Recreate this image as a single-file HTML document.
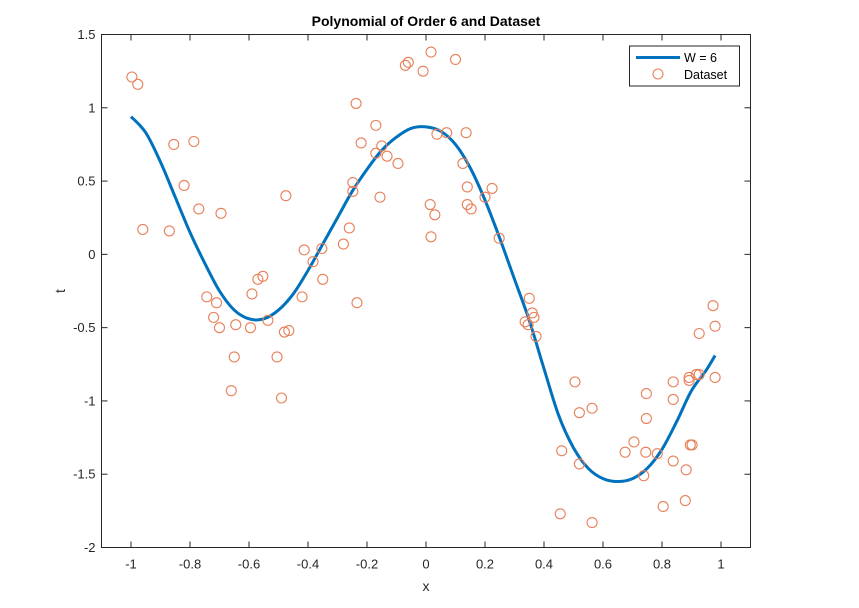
<!DOCTYPE html>
<html><head><meta charset="utf-8"><style>
body{margin:0;background:#fff;}
svg{display:block;font-family:"Liberation Sans",Arial,sans-serif;}
</style></head><body>
<svg id="chart" width="859" height="608"></svg>
<script>
const xTicks=[-1,-0.8,-0.6,-0.4,-0.2,0,0.2,0.4,0.6,0.8,1];
const xTickLabels=["-1","-0.8","-0.6","-0.4","-0.2","0","0.2","0.4","0.6","0.8","1"];
const yTicks=[1.5,1,0.5,0,-0.5,-1,-1.5,-2];
const yTickLabels=["1.5","1","0.5","0","-0.5","-1","-1.5","-2"];
const curveX=[-1,-0.95,-0.9,-0.85,-0.8,-0.75,-0.7,-0.65,-0.6,-0.55,-0.5,-0.45,-0.4,-0.35,-0.3,-0.25,-0.2,-0.15,-0.1,-0.05,0,0.05,0.1,0.15,0.2,0.25,0.3,0.35,0.4,0.45,0.5,0.55,0.6,0.65,0.7,0.75,0.8,0.85,0.9,0.95,0.98];
const curveY=[0.94,0.83,0.63,0.39,0.15,-0.06,-0.25,-0.38,-0.44,-0.44,-0.38,-0.27,-0.11,0.07,0.25,0.43,0.58,0.71,0.80,0.86,0.87,0.84,0.75,0.59,0.37,0.11,-0.17,-0.45,-0.78,-1.10,-1.32,-1.46,-1.53,-1.55,-1.53,-1.46,-1.33,-1.14,-0.93,-0.79,-0.69];
const dataX=[-0.997,-0.977,-0.96,-0.855,-0.87,-0.787,-0.82,-0.77,-0.695,-0.475,-0.743,-0.71,-0.72,-0.70,-0.645,-0.65,-0.66,-0.59,-0.595,-0.57,-0.553,-0.536,-0.505,-0.49,-0.48,-0.465,-0.42,-0.413,-0.383,-0.353,-0.35,-0.28,-0.26,-0.248,-0.248,-0.237,-0.234,-0.22,-0.17,-0.17,-0.156,-0.15,-0.132,-0.095,-0.07,-0.06,-0.01,0.017,0.014,0.017,0.03,0.037,0.07,0.10,0.136,0.125,0.14,0.14,0.153,0.20,0.224,0.248,0.35,0.336,0.346,0.36,0.366,0.373,0.505,0.52,0.563,0.46,0.52,0.455,0.563,0.675,0.705,0.745,0.738,0.747,0.747,0.784,0.804,0.838,0.838,0.838,0.882,0.879,0.892,0.892,0.896,0.902,0.916,0.926,0.926,0.973,0.98,0.98];
const dataY=[1.21,1.16,0.17,0.75,0.16,0.77,0.47,0.31,0.28,0.40,-0.29,-0.33,-0.43,-0.50,-0.48,-0.70,-0.93,-0.27,-0.50,-0.17,-0.15,-0.45,-0.70,-0.98,-0.53,-0.52,-0.29,0.03,-0.05,0.04,-0.17,0.07,0.18,0.49,0.43,1.03,-0.33,0.76,0.88,0.69,0.39,0.74,0.67,0.62,1.29,1.31,1.25,1.38,0.34,0.12,0.27,0.82,0.83,1.33,0.83,0.62,0.46,0.34,0.31,0.39,0.45,0.11,-0.30,-0.46,-0.48,-0.40,-0.43,-0.56,-0.87,-1.08,-1.05,-1.34,-1.43,-1.77,-1.83,-1.35,-1.28,-1.35,-1.51,-0.95,-1.12,-1.36,-1.72,-0.87,-0.99,-1.41,-1.47,-1.68,-0.84,-0.86,-1.30,-1.30,-0.82,-0.82,-0.54,-0.35,-0.49,-0.84];

const NS="http://www.w3.org/2000/svg";
const svg=document.getElementById('chart');
const L=101.5,R=750.5,T=34.5,B=547.5;
const xMin=-1.1,xMax=1.1,yMin=-2,yMax=1.5;
function sx(v){return L+(v-xMin)/(xMax-xMin)*(R-L);}
function sy(v){return B-(v-yMin)/(yMax-yMin)*(B-T);}
function mk(tag,attrs,parent){const e=document.createElementNS(NS,tag);for(const k in attrs)e.setAttribute(k,attrs[k]);(parent||svg).appendChild(e);return e;}

const axes=mk('rect',{x:L,y:T,width:R-L,height:B-T,fill:'#fff',stroke:'#262626','stroke-width':1});



xTicks.forEach((v,i)=>{
  const x=sx(v);
  const t1=mk('line',{x1:x,x2:x,y1:B,y2:B-6,stroke:'#262626'});
  
  
  mk('line',{x1:x,x2:x,y1:T,y2:T+6,stroke:'#262626'});
  const tx=mk('text',{x:x,y:B+21,'text-anchor':'middle','font-size':13,fill:'#262626'});
  tx.textContent=xTickLabels[i];
  
  
});
yTicks.forEach((v,i)=>{
  const y=sy(v);
  const t1=mk('line',{x1:L,x2:L+6,y1:y,y2:y,stroke:'#262626'});
  
  
  mk('line',{x1:R,x2:R-6,y1:y,y2:y,stroke:'#262626'});
  const tx=mk('text',{x:L-6,y:y+4.5,'text-anchor':'end','font-size':13,fill:'#262626'});
  tx.textContent=yTickLabels[i];
  
  
});

const pts=curveX.map((v,i)=>[sx(v),sy(curveY[i])]);
let d='M'+pts[0][0]+','+pts[0][1];
for(let i=0;i<pts.length-1;i++){
  const p0=pts[Math.max(0,i-1)],p1=pts[i],p2=pts[i+1],p3=pts[Math.min(pts.length-1,i+2)];
  const c1=[p1[0]+(p2[0]-p0[0])/6,p1[1]+(p2[1]-p0[1])/6];
  const c2=[p2[0]-(p3[0]-p1[0])/6,p2[1]-(p3[1]-p1[1])/6];
  d+=' C'+c1[0]+','+c1[1]+' '+c2[0]+','+c2[1]+' '+p2[0]+','+p2[1];
}
const curve=mk('path',{d:d,fill:'none',stroke:'#0072BD','stroke-width':3,'stroke-linejoin':'round'});



dataX.forEach((v,i)=>{
  const c=mk('circle',{cx:sx(v),cy:sy(dataY[i]),r:5,fill:'none',stroke:'#E8805A','stroke-width':1.1});
  
  
});

const lg=mk('g',{});


mk('rect',{x:629.5,y:46,width:110,height:40,fill:'#fff',stroke:'#262626','stroke-width':1},lg);
mk('line',{x1:636,x2:680,y1:57.5,y2:57.5,stroke:'#0072BD','stroke-width':3},lg);
mk('circle',{cx:658,cy:74,r:5,fill:'none',stroke:'#E8805A','stroke-width':1.1},lg);
const l1=mk('text',{x:684,y:62,'font-size':12.5,fill:'#000'},lg);l1.textContent='W = 6';


const l2=mk('text',{x:684,y:79,'font-size':12.5,fill:'#000'},lg);l2.textContent='Dataset';



const title=mk('text',{x:426,y:26,'text-anchor':'middle','font-size':14,'font-weight':'bold',fill:'#000'});
title.textContent='Polynomial of Order 6 and Dataset';


const xl=mk('text',{x:426,y:591,'text-anchor':'middle','font-size':14,fill:'#262626'});
xl.textContent='x';


const yl=mk('text',{x:65,y:291,'text-anchor':'middle','font-size':14,fill:'#262626',transform:'rotate(-90 65 291)'});
yl.textContent='t';


</script>
</body></html>
